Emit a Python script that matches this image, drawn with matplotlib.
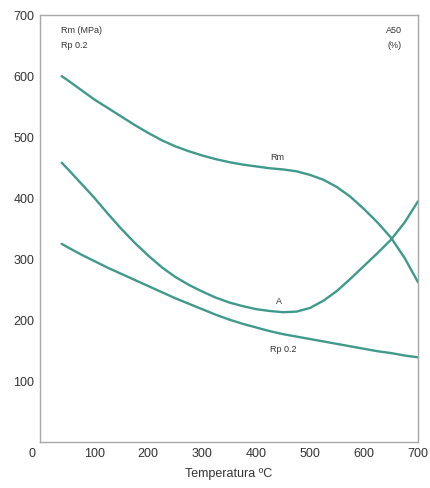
import matplotlib.pyplot as plt

# values (every 25 degC)
temp = [40, 50, 75, 100, 125, 150, 175, 200, 225, 250, 275, 300, 325, 350,
        375, 400, 425, 450, 475, 500, 525, 550, 575, 600, 625, 650, 675, 700]
rm = [600, 594, 578, 562, 548, 534, 520, 507, 495, 485, 477, 470, 464, 459,
      455, 452, 449, 447, 444, 438, 430, 418, 402, 382, 360, 335, 302, 262]
a50 = [458, 449, 425, 401, 375, 350, 327, 306, 287, 271, 258, 247, 237, 229,
       223, 218, 215, 213, 214, 220, 232, 248, 268, 289, 310, 332, 360, 395]
rp02 = [325, 320, 308, 297, 286, 276, 266, 256, 246, 236, 227, 218, 209, 201,
        194, 188, 182, 177, 173, 169, 165, 161, 157, 153, 149, 146, 142, 139]

x_ticks = [100, 200, 300, 400, 500, 600, 700]
y_ticks = [100, 200, 300, 400, 500, 600, 700]

plt.rcParams['font.family'] = ['Liberation Sans', 'DejaVu Sans']

fig = plt.figure(figsize=(4.31, 4.88), dpi=100)
ax = fig.add_axes([0.093, 0.094, 0.877, 0.875])

line_col = '#3f9a8c'
for ys in [rm, a50, rp02]:
    ax.plot(temp, ys, color=line_col, lw=1.7, solid_capstyle='round',
            solid_joinstyle='round')

ax.set_xlim(0, 700)
ax.set_ylim(0, 700)
ax.set_xticks(x_ticks)
ax.set_yticks(y_ticks)
ax.tick_params(length=0, labelsize=9, colors='#333333', pad=4)
for s in ax.spines.values():
    s.set_color('#a8a8a8')
    s.set_linewidth(1.0)

ax.annotate('0', xy=(0, 0), xytext=(-6, -4), textcoords='offset points',
            ha='center', va='top', fontsize=9, color='#333333', annotation_clip=False)
ax.set_xlabel('Temperatura ºC', fontsize=9, color='#333333', labelpad=6)

small = dict(fontsize=6.5, color='#333333')
ax.text(0.055, 0.975, 'Rm (MPa)', transform=ax.transAxes, va='top', **small)
ax.text(0.055, 0.94, 'Rp 0.2', transform=ax.transAxes, va='top', **small)
ax.text(0.915, 0.975, 'A50', transform=ax.transAxes, va='top', **small)
ax.text(0.92, 0.94, '(%)', transform=ax.transAxes, va='top', **small)

ax.text(440, 466, 'Rm', ha='center', va='center', **small)
ax.text(442, 230, 'A', ha='center', va='center', **small)
ax.text(450, 152, 'Rp 0.2', ha='center', va='center', **small)

fig.savefig('out.png', dpi=100)
